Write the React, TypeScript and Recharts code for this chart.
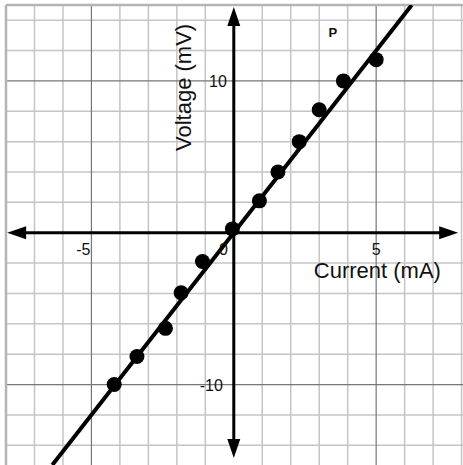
import {
  ComposedChart,
  XAxis,
  YAxis,
  Line,
  Scatter,
  ReferenceLine,
  ReferenceDot,
} from 'recharts'

// measured current (mA) and voltage (mV)
const CURRENT = [-4.2, -3.4, -2.4, -1.85, -1.1, -0.05, 0.9, 1.55, 2.3, 3.0, 3.85, 5.0]
const VOLTAGE = [-10.0, -8.15, -6.3, -3.95, -1.9, 0.25, 2.1, 4.0, 6.0, 8.1, 10.0, 11.4]

// best-fit line endpoints (slope 2.4)
const FIT_X = [-6.375, 6.25]
const FIT_Y = [-15.3, 15]

const GRID_X = [-8, -7, -6, -4, -3, -2, -1, 1, 2, 3, 4, 6, 7, 8]
const GRID_Y = [-14, -12, -8, -6, -4, -2, 2, 4, 6, 8, 12, 14]
const MAJOR_X = [-5, 5]
const MAJOR_Y = [-10, 10]

const X_DOMAIN: [number, number] = [-8, 8.05]
const Y_DOMAIN: [number, number] = [-15.3, 15]
const AXIS_X_ENDS = [-7.96, 7.88]
const AXIS_Y_ENDS = [-14.84, 14.87]

const points = CURRENT.map((x, i) => ({ x, y: VOLTAGE[i] }))
const fit = FIT_X.map((x, i) => ({ x, y: FIT_Y[i] }))

const FONT = '"Liberation Sans", Arial, sans-serif'

function ArrowAxis(props: any) {
  const { x1, y1, x2, y2 } = props
  const dx = x2 - x1
  const dy = y2 - y1
  const len = Math.hypot(dx, dy)
  const ux = dx / len
  const uy = dy / len
  const head = 19
  const half = 6.5
  const tri = (tx: number, ty: number, vx: number, vy: number) => {
    const bx = tx - vx * head
    const by = ty - vy * head
    return `${tx},${ty} ${bx - vy * half},${by + vx * half} ${bx + vy * half},${by - vx * half}`
  }
  return (
    <g>
      <line
        x1={x1 + ux * 8}
        y1={y1 + uy * 8}
        x2={x2 - ux * 8}
        y2={y2 - uy * 8}
        stroke="#000"
        strokeWidth={3}
      />
      <polygon points={tri(x2, y2, ux, uy)} fill="#000" />
      <polygon points={tri(x1, y1, -ux, -uy)} fill="#000" />
    </g>
  )
}

function textShape(
  text: string,
  dx: number,
  dy: number,
  anchor: 'start' | 'middle' | 'end',
  size = 16,
  weight: number | string = 'normal',
) {
  return (p: any) => (
    <text
      x={p.cx + dx}
      y={p.cy + dy}
      textAnchor={anchor}
      fontSize={size}
      fontWeight={weight}
      fontFamily={FONT}
      fill="#111"
    >
      {text}
    </text>
  )
}

function Dot(p: any) {
  return <circle cx={p.cx} cy={p.cy} r={7.5} fill="#000" />
}

export default function App() {
  return (
    <div style={{ position: 'absolute', left: 0, top: 0, background: '#fff' }}>
      <ComposedChart
        width={463}
        height={465}
        data={fit}
        margin={{ top: 5, right: 0, bottom: 0, left: 6 }}
      >
        <XAxis type="number" dataKey="x" domain={X_DOMAIN} hide allowDataOverflow />
        <YAxis type="number" domain={Y_DOMAIN} hide allowDataOverflow />

        {GRID_X.map((v) => (
          <ReferenceLine key={`gx${v}`} x={v} stroke="#c4c4c4" strokeWidth={1.5} />
        ))}
        {GRID_Y.map((v) => (
          <ReferenceLine key={`gy${v}`} y={v} stroke="#c4c4c4" strokeWidth={1.5} />
        ))}
        {MAJOR_X.map((v) => (
          <ReferenceLine key={`mx${v}`} x={v} stroke="#767676" strokeWidth={1.2} />
        ))}
        {MAJOR_Y.map((v) => (
          <ReferenceLine key={`my${v}`} y={v} stroke="#767676" strokeWidth={1.2} />
        ))}
        <ReferenceLine y={15} stroke="#b4b4b4" strokeWidth={2.5} />
        <ReferenceLine x={-8} stroke="#b4b4b4" strokeWidth={2.5} />

        <ReferenceLine
          segment={[{ x: AXIS_X_ENDS[0], y: 0 }, { x: AXIS_X_ENDS[1], y: 0 }]}
          shape={ArrowAxis}
        />
        <ReferenceLine
          segment={[{ x: 0, y: AXIS_Y_ENDS[0] }, { x: 0, y: AXIS_Y_ENDS[1] }]}
          shape={ArrowAxis}
        />

        <ReferenceDot x={-5} y={0} shape={textShape('-5', -1, 22, 'end')} />
        <ReferenceDot x={5} y={0} shape={textShape('5', 0, 22, 'middle')} />
        <ReferenceDot x={0} y={0} shape={textShape('0', -6, 22, 'end')} />
        <ReferenceDot x={0} y={10} shape={textShape('10', -7, 6, 'end')} />
        <ReferenceDot x={0} y={-10} shape={textShape('-10', -11, 6, 'end')} />

        <Line
          data={fit}
          dataKey="y"
          stroke="#000"
          strokeWidth={4}
          dot={false}
          isAnimationActive={false}
        />
        <Scatter data={points} dataKey="y" shape={Dot} isAnimationActive={false} />

        <ReferenceDot x={0} y={0} shape={textShape('Current (mA)', 80, 45, 'start', 22)} />
        <ReferenceDot
          x={0}
          y={10}
          shape={(p: any) => (
            <text
              x={p.cx - 43}
              y={p.cy + 6.5}
              transform={`rotate(-90, ${p.cx - 43}, ${p.cy + 6.5})`}
              textAnchor="middle"
              fontSize={22}
              fontFamily={FONT}
              fill="#111"
            >
              Voltage (mV)
            </text>
          )}
        />
        <ReferenceDot x={0} y={14} shape={textShape('P', 99, 16.5, 'middle', 13, 'bold')} />
      </ComposedChart>
    </div>
  )
}
